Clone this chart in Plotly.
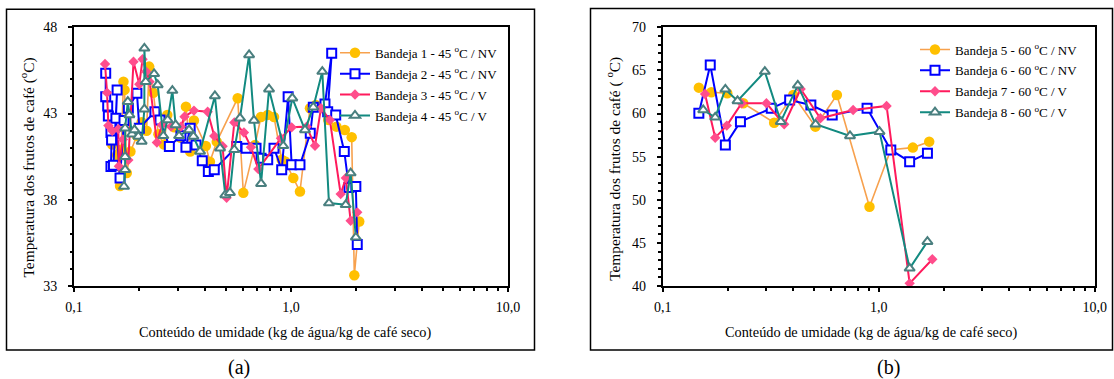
import plotly.graph_objects as go

W, H = 1114, 379

# ---------------- data: panel (a) 45 C ----------------
b1_x = [0.150, 0.158, 0.163, 0.165, 0.169, 0.171, 0.175, 0.182, 0.195, 0.205, 0.216, 0.222, 0.232, 0.245,
        0.260, 0.269, 0.290, 0.310, 0.328, 0.343, 0.357, 0.405, 0.423, 0.455, 0.568, 0.603, 0.683, 0.727,
        0.781, 0.835, 0.906, 0.940, 1.025, 1.100, 1.223, 1.300, 1.486, 1.620, 1.770, 1.904, 1.958, 2.063]
b1_y = [41.2, 40.6, 38.8, 40.9, 44.85, 44.37, 39.55, 40.8, 41.7, 42.5, 42.0, 45.72, 44.2, 41.8,
        41.2, 42.92, 42.2, 41.6, 43.4, 40.8, 42.6, 41.12, 40.2, 41.37, 43.89, 38.4, 41.18, 42.8,
        42.92, 42.8, 40.32, 40.22, 39.26, 38.48, 43.31, 43.5, 42.63, 42.24, 42.05, 41.63, 33.62, 36.74]

b2_x = [0.140, 0.140, 0.143, 0.144, 0.148, 0.149, 0.148, 0.152, 0.158, 0.156, 0.163, 0.170, 0.178, 0.195,
        0.200, 0.236, 0.249, 0.275, 0.311, 0.328, 0.343, 0.365, 0.390, 0.416, 0.443, 0.562, 0.621, 0.690,
        0.728, 0.781, 0.835, 0.906, 0.970, 1.007, 1.100, 1.227, 1.267, 1.434, 1.540, 1.476, 1.607, 1.760,
        1.850, 1.990, 2.020]
b2_y = [45.33, 43.98, 43.44, 42.86, 41.9, 41.47, 39.93, 40.0, 44.37, 42.73, 39.26, 42.6, 43.31, 44.18,
        42.15, 43.11, 42.63, 41.09, 41.71, 41.05, 42.15, 41.18, 40.26, 39.64, 39.74, 41.09, 40.99, 40.99,
        40.41, 40.32, 40.99, 39.74, 43.98, 40.03, 40.03, 41.85, 43.37, 43.56, 46.49, 43.11, 42.92, 40.8,
        38.71, 38.77, 35.4]

b3_x = [0.139, 0.142, 0.144, 0.150, 0.160, 0.161, 0.168, 0.178, 0.188, 0.200, 0.207, 0.215, 0.223, 0.241,
        0.254, 0.280, 0.311, 0.323, 0.357, 0.413, 0.443, 0.484, 0.505, 0.548, 0.607, 0.654, 0.707, 0.899,
        1.007, 1.180, 1.290, 1.375, 1.510, 1.694, 1.790, 1.883, 2.020]
b3_y = [45.87, 44.21, 42.3, 42.0, 42.1, 39.95, 41.5, 40.3, 46.0, 44.7, 46.15, 45.43, 44.85, 41.32,
        42.34, 42.24, 42.24, 42.82, 43.17, 43.1, 41.7, 41.1, 38.12, 42.48, 41.9, 41.05, 39.78, 41.57,
        42.2, 42.24, 41.13, 43.31, 42.63, 38.33, 39.26, 36.78, 37.27]

b4_x = [0.170, 0.172, 0.172, 0.172, 0.177, 0.180, 0.185, 0.190, 0.198, 0.205, 0.211, 0.211, 0.214, 0.234,
        0.243, 0.258, 0.270, 0.284, 0.294, 0.305, 0.339, 0.355, 0.381, 0.446, 0.471, 0.498, 0.523, 0.548,
        0.582, 0.641, 0.675, 0.728, 0.792, 0.921, 1.014, 1.160, 1.267, 1.394, 1.496, 1.787, 1.883, 1.990]
b4_y = [38.77, 39.74, 40.5, 42.15, 43.69, 42.92, 41.8, 42.05, 41.67, 41.38, 43.25, 46.78, 44.85, 45.3,
        44.66, 41.71, 42.63, 44.33, 42.34, 41.71, 42.05, 41.67, 40.8, 44.02, 40.99, 38.28, 38.41, 40.9,
        42.73, 46.4, 42.6, 38.93, 44.41, 41.13, 43.89, 42.05, 43.37, 45.43, 37.81, 37.71, 39.55, 35.82]

# ---------------- data: panel (b) 60 C ----------------
b5_x = [0.147, 0.168, 0.199, 0.236, 0.328, 0.402, 0.509, 0.640, 0.906, 1.137, 1.438, 1.712]
b5_y = [63.0, 62.46, 62.35, 61.19, 58.94, 62.15, 58.48, 62.15, 49.2, 55.8, 56.05, 56.74]

b6_x = [0.147, 0.166, 0.195, 0.229, 0.318, 0.387, 0.485, 0.609, 0.883, 1.137, 1.390, 1.680]
b6_y = [60.03, 65.63, 56.35, 59.06, 60.6, 61.57, 60.99, 59.83, 60.6, 55.78, 54.42, 55.39]

b7_x = [0.157, 0.175, 0.198, 0.232, 0.302, 0.365, 0.435, 0.537, 0.761, 1.087, 1.390, 1.770]
b7_y = [62.27, 57.2, 58.6, 61.19, 61.19, 58.75, 62.85, 59.45, 60.41, 60.88, 40.31, 43.1]

b8_x = [0.154, 0.175, 0.195, 0.222, 0.297, 0.352, 0.422, 0.510, 0.736, 1.008, 1.390, 1.680]
b8_y = [60.41, 59.56, 62.81, 61.46, 64.86, 59.06, 63.27, 58.75, 57.4, 57.9, 42.05, 45.14]

names_a = ["Bandeja 1 - 45 <sup>o</sup>C / NV", "Bandeja 2 - 45 <sup>o</sup>C / NV",
           "Bandeja 3 - 45 <sup>o</sup>C / V", "Bandeja 4 - 45 <sup>o</sup>C / V"]
names_b = ["Bandeja 5 - 60 <sup>o</sup>C / NV", "Bandeja 6 - 60 <sup>o</sup>C / NV",
           "Bandeja 7 - 60 <sup>o</sup>C / V", "Bandeja 8 - 60 <sup>o</sup>C / V"]

x_tickvals = [0.1, 1, 10]
x_ticktext = ["0,1", "1,0", "10,0"]
x_minor = [0.2, 0.3, 0.4, 0.5, 0.6, 0.7, 0.8, 0.9, 2, 3, 4, 5, 6, 7, 8, 9]

FONT = "'Liberation Serif', 'Times New Roman', serif"

styles = [
    dict(line=dict(color="#F7A14E", width=1.6),
         marker=dict(symbol="circle", size=10.5, color="#FFC000", line=dict(width=0))),
    dict(line=dict(color="#0000FF", width=2),
         marker=dict(symbol="square", size=9, color="white", line=dict(color="#0000FF", width=2))),
    dict(line=dict(color="#FF1A5C", width=2),
         marker=dict(symbol="diamond", size=8, color="#FF4D8C", line=dict(width=0))),
    dict(line=dict(color="#128A80", width=2),
         marker=dict(symbol="triangle-up", size=9, color="white", line=dict(color="#4A7F7F", width=2))),
]

fig = go.Figure()
series_a = [(b1_x, b1_y), (b2_x, b2_y), (b3_x, b3_y), (b4_x, b4_y)]
series_b = [(b5_x, b5_y), (b6_x, b6_y), (b7_x, b7_y), (b8_x, b8_y)]
for i, (xs, ys) in enumerate(series_a):
    fig.add_trace(go.Scatter(x=xs, y=ys, mode="lines+markers", name=names_a[i],
                             xaxis="x", yaxis="y", legend="legend", legendgroup="a%d" % i,
                             **styles[i]))
for i, (xs, ys) in enumerate(series_b):
    fig.add_trace(go.Scatter(x=xs, y=ys, mode="lines+markers", name=names_b[i],
                             xaxis="x2", yaxis="y2", legend="legend2", legendgroup="b%d" % i,
                             **styles[i]))

def px(v):
    return v / W

def py(v):
    return 1 - v / H

dom_y = [py(286), py(27.3)]
dom_xa = [px(74), px(508)]
dom_xb = [px(662.7), px(1094.8)]

tickfont = dict(family=FONT, size=14, color="black")

def xaxis_main(domain, anchor):
    return dict(type="log", range=[-1, 1], domain=domain, anchor=anchor, automargin=False,
                showline=True, linecolor="black", linewidth=2, mirror=True,
                ticks="outside", ticklen=4, tickwidth=2, tickcolor="black",
                tickvals=x_tickvals, ticktext=x_ticktext, tickfont=tickfont,
                ticklabelstandoff=3,
                minor=dict(tickvals=x_minor, ticks="outside", ticklen=3, tickwidth=1.5,
                           tickcolor="black", showgrid=False),
                showgrid=False, zeroline=False)

def xaxis_over(over, anchor):
    return dict(type="log", range=[-1, 1], overlaying=over, anchor=anchor, automargin=False,
                showline=False, ticks="inside", ticklen=4, tickwidth=2, tickcolor="black",
                tickvals=x_tickvals, showticklabels=False,
                minor=dict(tickvals=x_minor, ticks="inside", ticklen=3, tickwidth=1.5,
                           tickcolor="black", showgrid=False),
                showgrid=False, zeroline=False)

def yaxis_main(rng, anchor):
    return dict(range=rng, domain=dom_y, anchor=anchor, automargin=False,
                showline=True, linecolor="black", linewidth=2, mirror=True,
                ticks="outside", ticklen=4, tickwidth=2, tickcolor="black",
                tick0=rng[0], dtick=5, tickfont=tickfont, ticklabelstandoff=8,
                minor=dict(tick0=rng[0], dtick=1, ticks="outside", ticklen=2.5, tickwidth=1.5,
                           tickcolor="black", showgrid=False),
                showgrid=False, zeroline=False)

def yaxis_over(rng, over, anchor):
    return dict(range=rng, overlaying=over, anchor=anchor, automargin=False,
                showline=False, ticks="inside", ticklen=4, tickwidth=2, tickcolor="black",
                tick0=rng[0], dtick=5, showticklabels=False,
                minor=dict(tick0=rng[0], dtick=1, ticks="inside", ticklen=2.5, tickwidth=1.5,
                           tickcolor="black", showgrid=False),
                showgrid=False, zeroline=False)

legend_common = dict(font=dict(family=FONT, size=13, color="black"), bgcolor="rgba(0,0,0,0)",
                     xanchor="left", yanchor="top", tracegroupgap=1, itemwidth=30)

ann_font = dict(family=FONT, size=15.4, color="black")
xt_font = dict(family=FONT, size=14.3, color="black")

fig.update_layout(
    template="none",
    width=W, height=H, margin=dict(l=0, r=0, t=0, b=0, pad=0), autosize=False,
    paper_bgcolor="white", plot_bgcolor="white",
    font=dict(family=FONT, color="black"),
    xaxis=xaxis_main(dom_xa, "y"),
    yaxis=yaxis_main([33, 48], "x"),
    xaxis2=xaxis_main(dom_xb, "y2"),
    yaxis2=yaxis_main([40, 70], "x2"),
    xaxis3=xaxis_over("x", "y"),
    yaxis3=yaxis_over([33, 48], "y", "x"),
    xaxis4=xaxis_over("x2", "y2"),
    yaxis4=yaxis_over([40, 70], "y2", "x2"),
    legend=dict(x=px(335), y=py(37.8), **legend_common),
    legend2=dict(x=px(915), y=py(34.5), **legend_common),
    showlegend=True,
    shapes=[
        dict(type="rect", xref="paper", yref="paper", x0=px(6.5), x1=px(534.5), y0=py(350), y1=py(9.3),
             line=dict(color="black", width=1.5)),
        dict(type="rect", xref="paper", yref="paper", x0=px(590.5), x1=px(1112.5), y0=py(350), y1=py(8.5),
             line=dict(color="black", width=1.5)),
    ],
    annotations=[
        dict(text="Temperatura dos frutos de café (<sup>o</sup>C)", x=px(27), y=py(167.5), xref="paper",
             yref="paper", textangle=-90, showarrow=False, font=ann_font, xanchor="center", yanchor="middle"),
        dict(text="Temperatura dos frutos de café ( <sup>o</sup>C)", x=px(613), y=py(168.8), xref="paper",
             yref="paper", textangle=-90, showarrow=False, font=ann_font, xanchor="center", yanchor="middle"),
        dict(text="Conteúdo de umidade (kg de água/kg de café seco)", x=px(285), y=py(332), xref="paper",
             yref="paper", showarrow=False, font=xt_font, xanchor="center", yanchor="middle"),
        dict(text="Conteúdo de umidade (kg de água/kg de café seco)", x=px(870.7), y=py(332), xref="paper",
             yref="paper", showarrow=False, font=xt_font, xanchor="center", yanchor="middle"),
        dict(text="(a)", x=px(239), y=py(367), xref="paper", yref="paper", showarrow=False,
             font=dict(family=FONT, size=20, color="black"), xanchor="center", yanchor="middle"),
        dict(text="(b)", x=px(888), y=py(367), xref="paper", yref="paper", showarrow=False,
             font=dict(family=FONT, size=20, color="black"), xanchor="center", yanchor="middle"),
    ],
)

fig.write_html("out.html", config={"displayModeBar": False},
               post_script="document.body.style.margin='0px';document.body.style.overflow='hidden';")
